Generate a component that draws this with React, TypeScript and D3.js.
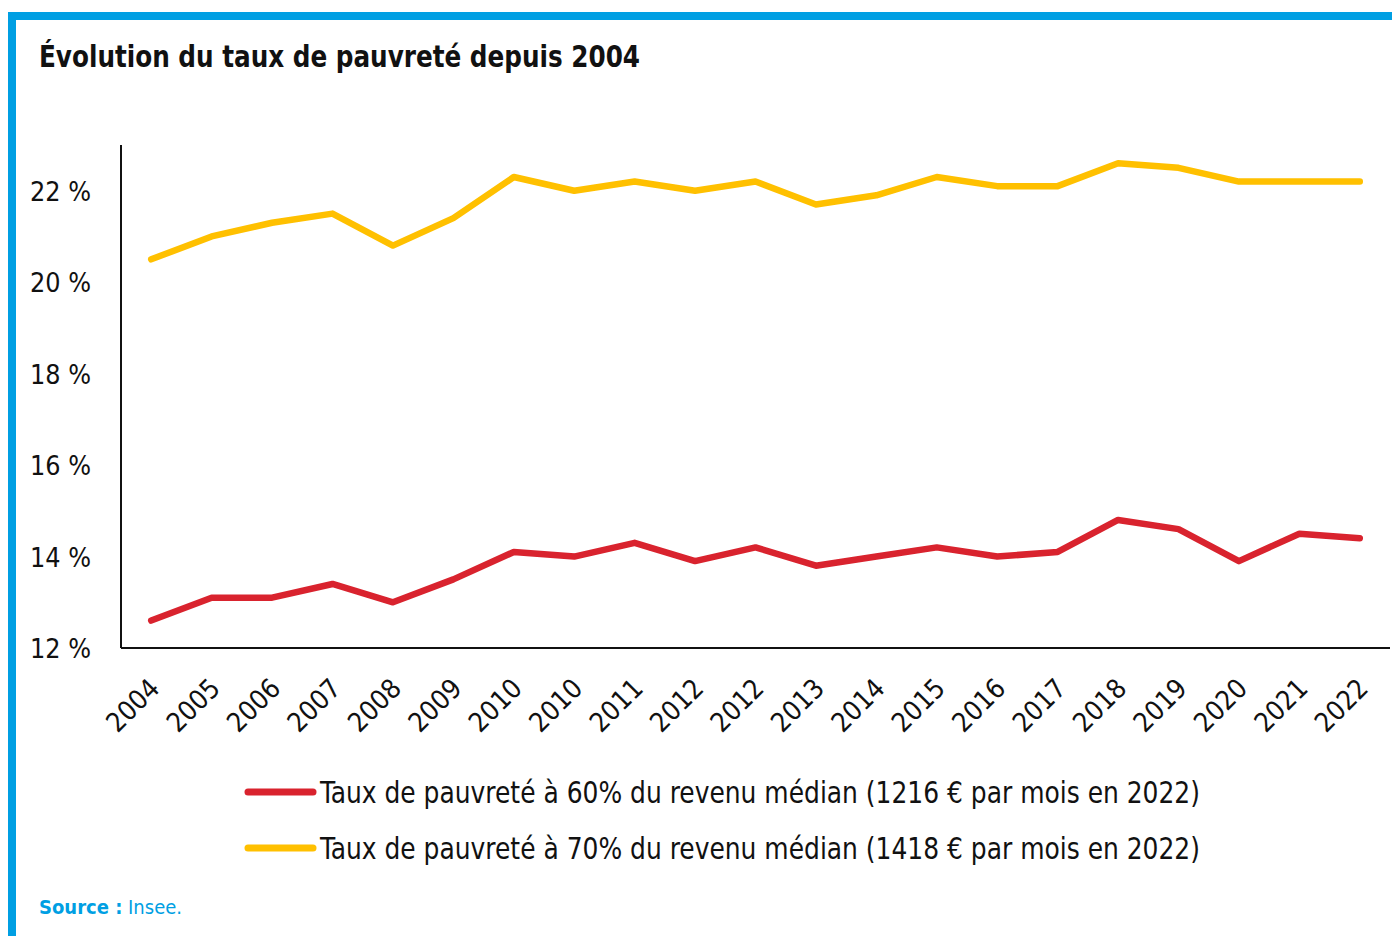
import React from "react";
import * as d3 from "d3";

const categories = ["2004","2005","2006","2007","2008","2009","2010","2010","2011","2012","2012","2013","2014","2015","2016","2017","2018","2019","2020","2021","2022"];
const rate60 = [12.6,13.1,13.1,13.4,13.0,13.5,14.1,14.0,14.3,13.9,14.2,13.8,14.0,14.2,14.0,14.1,14.8,14.6,13.9,14.5,14.4];
const rate70 = [20.5,21.0,21.3,21.5,20.8,21.4,22.3,22.0,22.2,22.0,22.2,21.7,21.9,22.3,22.1,22.1,22.6,22.5,22.2,22.2,22.2];
const yTicks = [12,14,16,18,20,22];
const seriesNames = [
  "Taux de pauvreté à 60% du revenu médian (1216 € par mois en 2022)",
  "Taux de pauvreté à 70% du revenu médian (1418 € par mois en 2022)",
];
const colors = ["#d9232e", "#ffc000"];

const FONT = "'Liberation Sans Narrow', 'DejaVu Sans Condensed', 'Roboto', sans-serif";

export default function App() {
  const W = 1392, H = 936;
  const left = 121, right = 1390, top = 145, bottom = 648;
  const x = d3.scaleBand<number>().domain(categories.map((_, i) => i)).range([left, right]);
  const y = d3.scaleLinear().domain([12, 23]).range([bottom, top]);
  const line = d3.line<number>().x((_, i) => (x(i) as number) + x.bandwidth() / 2).y((d) => y(d));
  const series = [rate60, rate70];

  return (
    <svg width={W} height={H} style={{ position: "absolute", left: 0, top: 0, background: "#fff" }}>
      <rect x={0} y={0} width={W} height={H} fill="#fff" />
      <rect x={8} y={12} width={W - 8} height={8} fill="#009fe3" />
      <rect x={8} y={12} width={8} height={H - 12} fill="#009fe3" />
      <text x={39} y={67} fontFamily={FONT} fontWeight="bold" fontSize={31} fill="#111" textLength={601} lengthAdjust="spacingAndGlyphs">
        Évolution du taux de pauvreté depuis 2004
      </text>
      {yTicks.map((t) => (
        <text key={t} x={91} y={y(t) + 10} textAnchor="end" fontFamily={FONT} fontSize={27} fill="#111" textLength={61} lengthAdjust="spacingAndGlyphs">
          {t} %
        </text>
      ))}
      {categories.map((c, i) => {
        const cx = (x(i) as number) + x.bandwidth() / 2;
        return (
          <text key={i} transform={`translate(${cx + 10},${bottom + 42}) rotate(-45)`} textAnchor="end" fontFamily={FONT} fontSize={27} fill="#111">
            {c}
          </text>
        );
      })}
      {series.map((s, k) => (
        <path key={k} d={line(s) || ""} fill="none" stroke={colors[k]} strokeWidth={6.5} strokeLinejoin="round" strokeLinecap="round" />
      ))}
      <line x1={left} y1={top} x2={left} y2={bottom} stroke="#111" strokeWidth={2} />
      <line x1={left} y1={bottom} x2={right} y2={bottom} stroke="#111" strokeWidth={2} />
      {seriesNames.map((n, k) => {
        const ly = 792 + k * 56;
        return (
          <g key={k}>
            <line x1={248} x2={313} y1={ly} y2={ly} stroke={colors[k]} strokeWidth={7} strokeLinecap="round" />
            <text x={320} y={ly + 11} fontFamily={FONT} fontSize={30} fill="#111" textLength={880} lengthAdjust="spacingAndGlyphs">
              {n}
            </text>
          </g>
        );
      })}
      <text x={39} y={914} fontFamily={FONT} fontSize={20} fill="#009fe3">
        <tspan fontWeight="bold">Source :</tspan> Insee.
      </text>
    </svg>
  );
}
